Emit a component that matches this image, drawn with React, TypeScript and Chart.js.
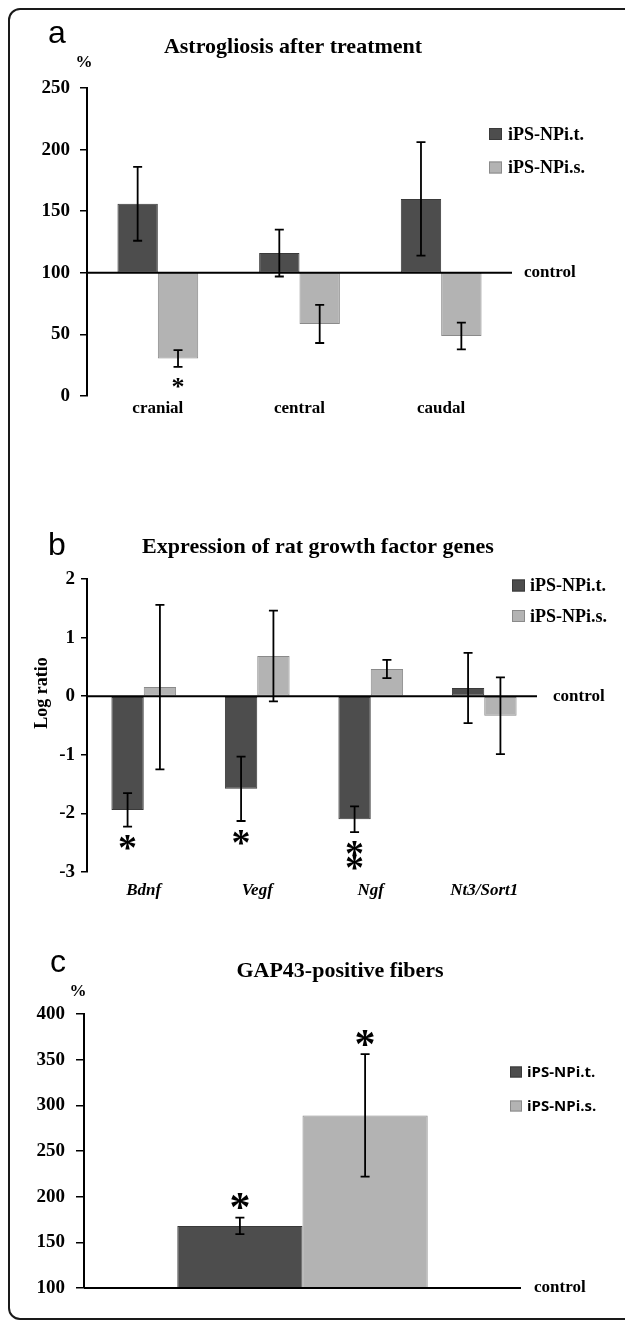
import React, { useEffect, useRef } from 'react';
import { Chart, registerables } from 'chart.js';

Chart.register(...registerables);

// ---------- Shared ----------
const seriesNames = ['iPS-NPi.t.', 'iPS-NPi.s.'];
const darkFill = '#4d4d4d';
const darkBorder = '#3a3a3a';
const lightFill = '#b3b3b3';
const lightBorder = '#8a8a8a';

// ---------- Panel a: Astrogliosis ----------
const astroCategories = ['cranial', 'central', 'caudal'];
const astroIT = [156, 116, 160];
const astroITErr = [30, 19, 46];
const astroIS = [30.5, 58.5, 48.7];
const astroISErr = [6.8, 15.5, 10.8];
const astroITStars = [0, 0, 0];
const astroISStars = [1, 0, 0];
const astroTicks = [0, 50, 100, 150, 200, 250];
const astroBase = 100;

// ---------- Panel b: Gene expression ----------
const geneCategories = ['Bdnf', 'Vegf', 'Ngf', 'Nt3/Sort1'];
const geneIT = [-1.94, -1.58, -2.1, 0.14];
const geneITErr = [0.285, 0.55, 0.22, 0.6];
const geneIS = [0.155, 0.685, 0.465, -0.335];
const geneISErr = [1.405, 0.775, 0.155, 0.655];
const geneITStars = [1, 1, 2, 0];
const geneISStars = [0, 0, 0, 0];
const geneTicks = [-3, -2, -1, 0, 1, 2];
const geneBase = 0;

// ---------- Panel c: GAP43 ----------
const gapCategories = [''];
const gapIT = [168];
const gapITErr = [9];
const gapIS = [289];
const gapISErr = [67];
const gapITStars = [1];
const gapISStars = [1];
const gapTicks = [100, 150, 200, 250, 300, 350, 400];
const gapBase = 100;

const SERIF = "'Liberation Serif', 'Times New Roman', serif";
const SANS = "'Liberation Sans', Arial, sans-serif";

const overlayPlugin = {
  id: 'overlay',
  afterDatasetsDraw(chart: any, _args: any, o: any) {
    const ctx = chart.ctx as CanvasRenderingContext2D;
    const ys = chart.scales.y;
    const area = chart.chartArea;
    ctx.save();

    // control line
    const by = ys.getPixelForValue(o.baseline);
    ctx.strokeStyle = '#000';
    ctx.lineWidth = 2;
    ctx.beginPath();
    ctx.moveTo(area.left, by);
    ctx.lineTo(o.controlEnd, by);
    ctx.stroke();

    // error bars and stars
    chart.data.datasets.forEach((ds: any, d: number) => {
      const meta = chart.getDatasetMeta(d);
      meta.data.forEach((bar: any, i: number) => {
        const v = ds.data[i][1];
        const e = ds.errors[i];
        const x = bar.x;
        const yt = ys.getPixelForValue(v + e);
        const yb = ys.getPixelForValue(v - e);
        ctx.strokeStyle = '#000';
        ctx.lineWidth = 1.8;
        ctx.beginPath();
        ctx.moveTo(x, yt);
        ctx.lineTo(x, yb);
        ctx.moveTo(x - o.cap, yt);
        ctx.lineTo(x + o.cap, yt);
        ctx.moveTo(x - o.cap, yb);
        ctx.lineTo(x + o.cap, yb);
        ctx.stroke();
        const n = ds.stars[i];
        ctx.fillStyle = '#000';
        ctx.font = `bold ${o.starSize}px ${SERIF}`;
        ctx.textAlign = 'center';
        ctx.textBaseline = 'alphabetic';
        for (let k = 0; k < n; k++) {
          const cy = o.starAbove
            ? yt - o.starOffset - k * o.starStep
            : yb + o.starOffset + k * o.starStep;
          ctx.fillText('*', x, cy + o.starSize * 0.47);
        }
      });
    });

    // control label
    ctx.fillStyle = '#000';
    ctx.font = `bold 17px ${SERIF}`;
    ctx.textAlign = 'left';
    ctx.textBaseline = 'middle';
    ctx.fillText('control', o.controlText, by);

    // panel letter
    ctx.font = `${o.letterSize}px ${SANS}`;
    ctx.textBaseline = 'alphabetic';
    ctx.fillText(o.letter, o.letterX, o.letterY);

    // title
    ctx.font = `bold 22px ${SERIF}`;
    ctx.textAlign = 'center';
    ctx.textBaseline = 'middle';
    ctx.fillText(o.title, o.titleX, o.titleY);

    // unit
    if (o.unit) {
      ctx.font = `bold 17px ${SERIF}`;
      ctx.fillText(o.unit, o.unitX, o.unitY);
    }
    // rotated axis title
    if (o.yTitle) {
      ctx.save();
      ctx.translate(o.yTitleX, o.yTitleY);
      ctx.rotate(-Math.PI / 2);
      ctx.font = `bold 18px ${SERIF}`;
      ctx.fillText(o.yTitle, 0, 0);
      ctx.restore();
    }

    // legend
    const fills = [darkFill, lightFill];
    const borders = [darkBorder, lightBorder];
    seriesNames.forEach((name, k) => {
      const cy = o.legendRows[k];
      ctx.fillStyle = fills[k];
      ctx.fillRect(o.legendX, cy - o.legendH / 2, o.legendW, o.legendH);
      ctx.strokeStyle = borders[k];
      ctx.lineWidth = 1;
      ctx.strokeRect(o.legendX + 0.5, cy - o.legendH / 2 + 0.5, o.legendW - 1, o.legendH - 1);
      ctx.fillStyle = '#000';
      ctx.font = o.legendFont;
      ctx.textAlign = 'left';
      ctx.textBaseline = 'middle';
      ctx.fillText(name, o.legendTextX, cy + 1);
    });

    ctx.restore();
  },
};

function makeConfig(p: any) {
  return {
    type: 'bar',
    data: {
      labels: p.labels,
      datasets: [
        {
          label: seriesNames[0],
          data: p.it.map((v: number) => [p.base, v]),
          errors: p.itErr,
          stars: p.itStars,
          backgroundColor: darkFill,
          borderColor: darkBorder,
          borderWidth: 1,
          borderSkipped: false,
          categoryPercentage: p.catPct,
          barPercentage: 1,
        },
        {
          label: seriesNames[1],
          data: p.is.map((v: number) => [p.base, v]),
          errors: p.isErr,
          stars: p.isStars,
          backgroundColor: lightFill,
          borderColor: lightBorder,
          borderWidth: 1,
          borderSkipped: false,
          categoryPercentage: p.catPct,
          barPercentage: 1,
        },
      ],
    },
    options: {
      animation: false,
      responsive: false,
      maintainAspectRatio: false,
      layout: { padding: { left: 0, right: p.padRight, top: p.padTop, bottom: p.padBottom } },
      plugins: {
        legend: { display: false },
        title: { display: false },
        tooltip: { enabled: false },
        overlay: p.overlay,
      },
      scales: {
        x: {
          type: 'category',
          afterFit: (s: any) => { s.height = p.xHeight; },
          grid: { display: false, drawTicks: false },
          border: { display: false },
          ticks: {
            display: p.showX,
            color: '#000',
            padding: p.xPad,
            font: { family: SERIF, weight: 'bold', size: 17, style: p.xItalic ? 'italic' : 'normal' },
            maxRotation: 0,
            autoSkip: false,
          },
        },
        y: {
          min: p.ticks[0],
          max: p.ticks[p.ticks.length - 1],
          afterFit: (s: any) => { s.width = p.yWidth; },
          afterBuildTicks: (s: any) => { s.ticks = p.ticks.map((v: number) => ({ value: v })); },
          grid: { display: true, drawOnChartArea: false, drawTicks: true, tickLength: p.tickLen, color: '#000', lineWidth: 1.5 },
          border: { display: true, color: '#000', width: 2 },
          ticks: {
            color: '#000',
            padding: p.yPad,
            autoSkip: false,
            font: { family: SERIF, weight: 'bold', size: 19 },
          },
        },
      },
    },
    plugins: [overlayPlugin],
  };
}

const panelA = {
  labels: astroCategories, it: astroIT, itErr: astroITErr, is: astroIS, isErr: astroISErr,
  itStars: astroITStars, isStars: astroISStars, ticks: astroTicks, base: astroBase,
  catPct: 0.57, yWidth: 87, padRight: 113, padTop: 88, padBottom: 4, xHeight: 30,
  xPad: 2, showX: true, xItalic: false, tickLen: 7, yPad: 10,
  overlay: {
    baseline: astroBase, controlEnd: 512, controlText: 524, cap: 4.5,
    starSize: 26, starAbove: false, starOffset: 16, starStep: 14,
    letter: 'a', letterSize: 32, letterX: 48, letterY: 43,
    title: 'Astrogliosis after treatment', titleX: 293, titleY: 47,
    unit: '%', unitX: 84, unitY: 63,
    legendX: 489, legendW: 13, legendH: 12, legendRows: [134, 167.5], legendTextX: 508,
    legendFont: `bold 18px ${SERIF}`,
  },
};

const panelB = {
  labels: geneCategories, it: geneIT, itErr: geneITErr, is: geneIS, isErr: geneISErr,
  itStars: geneITStars, isStars: geneISStars, ticks: geneTicks, base: geneBase,
  catPct: 0.57, yWidth: 87, padRight: 84, padTop: 59, padBottom: 18, xHeight: 30,
  xPad: 8, showX: true, xItalic: true, tickLen: 6, yPad: 6,
  overlay: {
    baseline: geneBase, controlEnd: 537, controlText: 553, cap: 4.5,
    starSize: 38, starAbove: false, starOffset: 16, starStep: 14,
    letter: 'b', letterSize: 32, letterX: 48, letterY: 35,
    title: 'Expression of rat growth factor genes', titleX: 318, titleY: 27,
    yTitle: 'Log ratio', yTitleX: 42, yTitleY: 173,
    legendX: 512, legendW: 13, legendH: 12, legendRows: [65.5, 96], legendTextX: 530,
    legendFont: `bold 18px ${SERIF}`,
  },
};

const panelC = {
  labels: gapCategories, it: gapIT, itErr: gapITErr, is: gapIS, isErr: gapISErr,
  itStars: gapITStars, isStars: gapISStars, ticks: gapTicks, base: gapBase,
  catPct: 0.573, yWidth: 84, padRight: 104, padTop: 84, padBottom: 22, xHeight: 10,
  xPad: 0, showX: false, xItalic: false, tickLen: 8, yPad: 11,
  overlay: {
    baseline: gapBase, controlEnd: 521, controlText: 534, cap: 4.5,
    starSize: 42, starAbove: true, starOffset: 16, starStep: 14,
    letter: 'c', letterSize: 32, letterX: 50, letterY: 42,
    title: 'GAP43-positive fibers', titleX: 340, titleY: 41,
    unit: '%', unitX: 78, unitY: 62,
    legendX: 510, legendW: 12, legendH: 11, legendRows: [142, 176], legendTextX: 527,
    legendFont: `bold 15px 'Open Sans', sans-serif`,
  },
};

function Panel({ cfg, top, height }: { cfg: any; top: number; height: number }) {
  const ref = useRef<HTMLCanvasElement | null>(null);
  useEffect(() => {
    if (!ref.current) return;
    const chart = new Chart(ref.current, makeConfig(cfg) as any);
    return () => chart.destroy();
  }, [cfg]);
  return (
    <canvas
      ref={ref}
      width={625}
      height={height}
      style={{ position: 'absolute', left: 0, top, width: 625, height }}
    />
  );
}

export default function App() {
  return (
    <div style={{ position: 'absolute', left: 0, top: 0, width: 625, height: 1320, overflow: 'hidden', background: '#fff' }}>
      <div
        style={{
          position: 'absolute', left: 8, top: 8, width: 640, height: 1312,
          border: '2px solid #1a1a1a', borderRadius: 12, boxSizing: 'border-box',
        }}
      />
      <Panel cfg={panelA} top={0} height={430} />
      <Panel cfg={panelB} top={520} height={400} />
      <Panel cfg={panelC} top={930} height={390} />
    </div>
  );
}
